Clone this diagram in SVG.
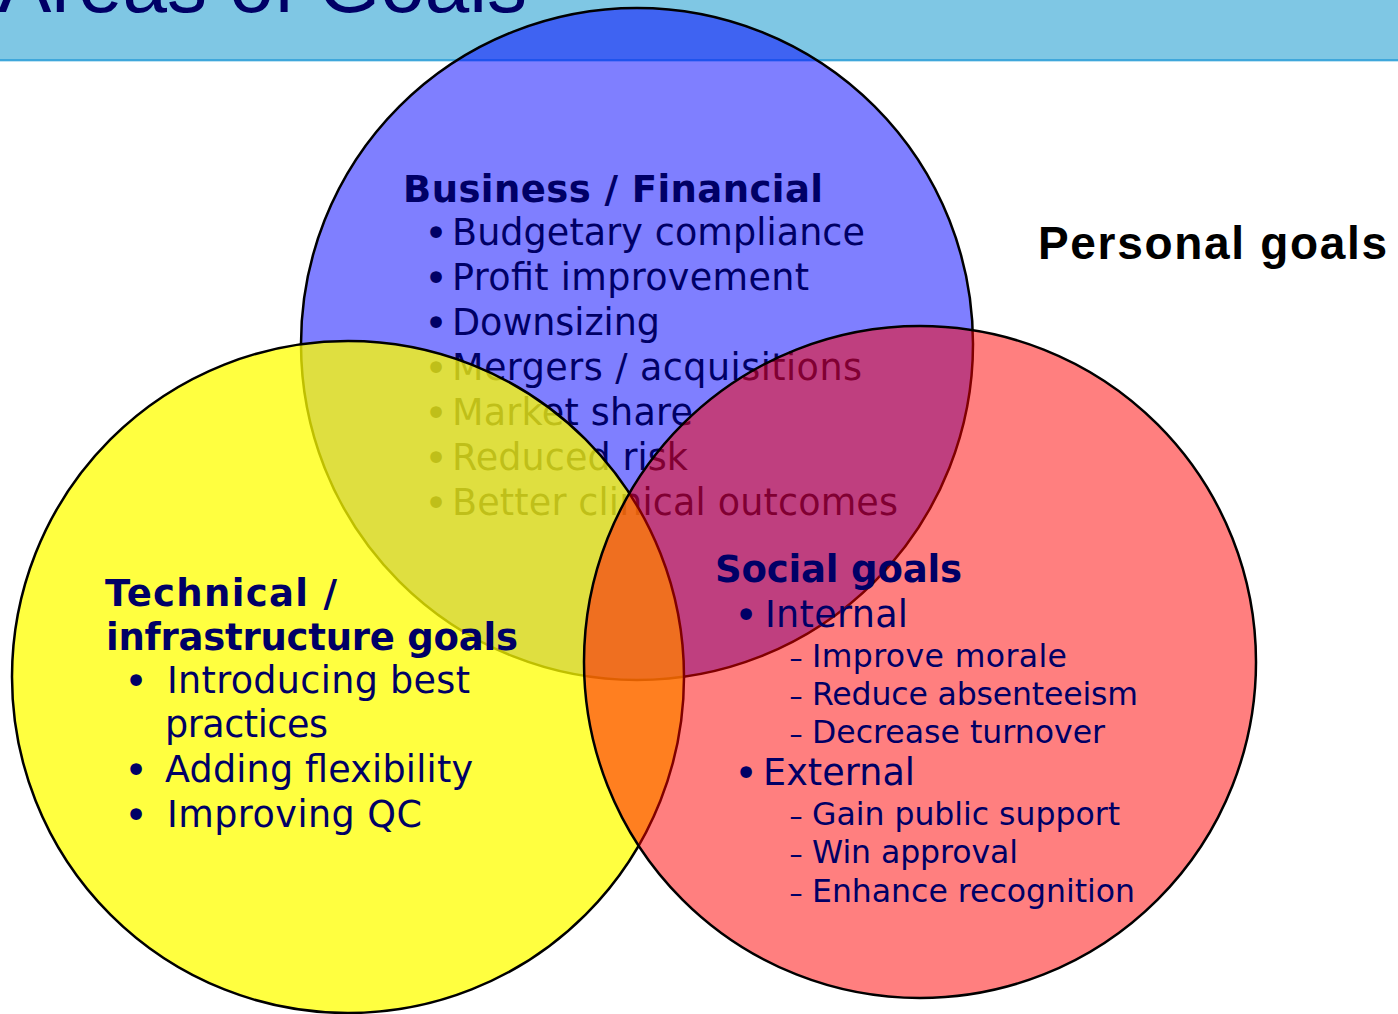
<svg xmlns="http://www.w3.org/2000/svg" width="1398" height="1014" viewBox="0 0 1398 1014">
<style>
.t{font-family:"DejaVu Sans",Verdana,sans-serif;fill:#000066}
.h{font-weight:bold;font-size:37px}
.i{font-size:36.5px}
.s{font-size:31.5px}
.b{font-size:40px;text-anchor:middle}
.d{font-size:26px;text-anchor:middle}
.c{stroke:#000;stroke-width:2.5}
</style>
<rect x="0" y="0" width="1398" height="59" fill="#7fc7e4"/>
<rect x="0" y="59" width="1398" height="2" fill="#3fa7db"/>
<rect x="0" y="61" width="1398" height="1" fill="#bfe3f3"/>
<text x="-2" y="12" font-family="Liberation Sans, Arial, sans-serif" font-size="80" fill="#000066" textLength="529">Areas of Goals</text>
<g id="connectors"/>
<g id="business">
<circle class="c" cx="637" cy="344" r="336" fill="#0000ff" fill-opacity="0.5"/>
<text class="t h" x="403" y="202" textLength="420">Business / Financial</text>
<text class="t b" x="436" y="247">•</text><text class="t i" x="452" y="245" textLength="413">Budgetary compliance</text>
<text class="t b" x="436" y="292">•</text><text class="t i" x="452" y="290" textLength="357">Profit improvement</text>
<text class="t b" x="436" y="337">•</text><text class="t i" x="452" y="335" textLength="208">Downsizing</text>
<text class="t b" x="436" y="382">•</text><text class="t i" x="452" y="380" textLength="410">Mergers / acquisitions</text>
<text class="t b" x="436" y="427">•</text><text class="t i" x="452" y="425" textLength="241">Market share</text>
<text class="t b" x="436" y="472">•</text><text class="t i" x="452" y="470" textLength="236">Reduced risk</text>
<text class="t b" x="436" y="517">•</text><text class="t i" x="452" y="515" textLength="446">Better clinical outcomes</text>
</g>
<g id="technical">
<circle class="c" cx="348" cy="677" r="336" fill="#ffff00" fill-opacity="0.75"/>
<text class="t h" x="105" y="606" textLength="232">Technical /</text>
<text class="t h" x="106" y="650" textLength="412">infrastructure goals</text>
<text class="t b" x="136" y="695">•</text><text class="t i" x="167" y="693" textLength="303">Introducing best</text>
<text class="t i" x="165" y="737" textLength="163">practices</text>
<text class="t b" x="136" y="784">•</text><text class="t i" x="165" y="782" textLength="308">Adding flexibility</text>
<text class="t b" x="136" y="829">•</text><text class="t i" x="167" y="827" textLength="255">Improving QC</text>
</g>
<g id="social">
<circle class="c" cx="920" cy="662" r="336" fill="#ff0000" fill-opacity="0.5"/>
<text class="t h" x="715" y="582" textLength="247">Social goals</text>
<text class="t b" x="746" y="629">•</text><text class="t i" x="765" y="627" textLength="143">Internal</text>
<text class="t d" x="796" y="667">–</text><text class="t s" x="812" y="667" textLength="255">Improve morale</text>
<text class="t d" x="796" y="705">–</text><text class="t s" x="812" y="705" textLength="326">Reduce absenteeism</text>
<text class="t d" x="796" y="743">–</text><text class="t s" x="812" y="743" textLength="293">Decrease turnover</text>
<text class="t b" x="746" y="787">•</text><text class="t i" x="763" y="785" textLength="152">External</text>
<text class="t d" x="796" y="825">–</text><text class="t s" x="812" y="825" textLength="308">Gain public support</text>
<text class="t d" x="796" y="863">–</text><text class="t s" x="812" y="863" textLength="206">Win approval</text>
<text class="t d" x="796" y="902">–</text><text class="t s" x="812" y="902" textLength="323">Enhance recognition</text>
</g>
<g id="personal">
<text x="1038" y="259" font-family="Liberation Sans, Arial, sans-serif" font-weight="bold" font-size="46" fill="#000" textLength="349">Personal goals</text>
</g>
</svg>
